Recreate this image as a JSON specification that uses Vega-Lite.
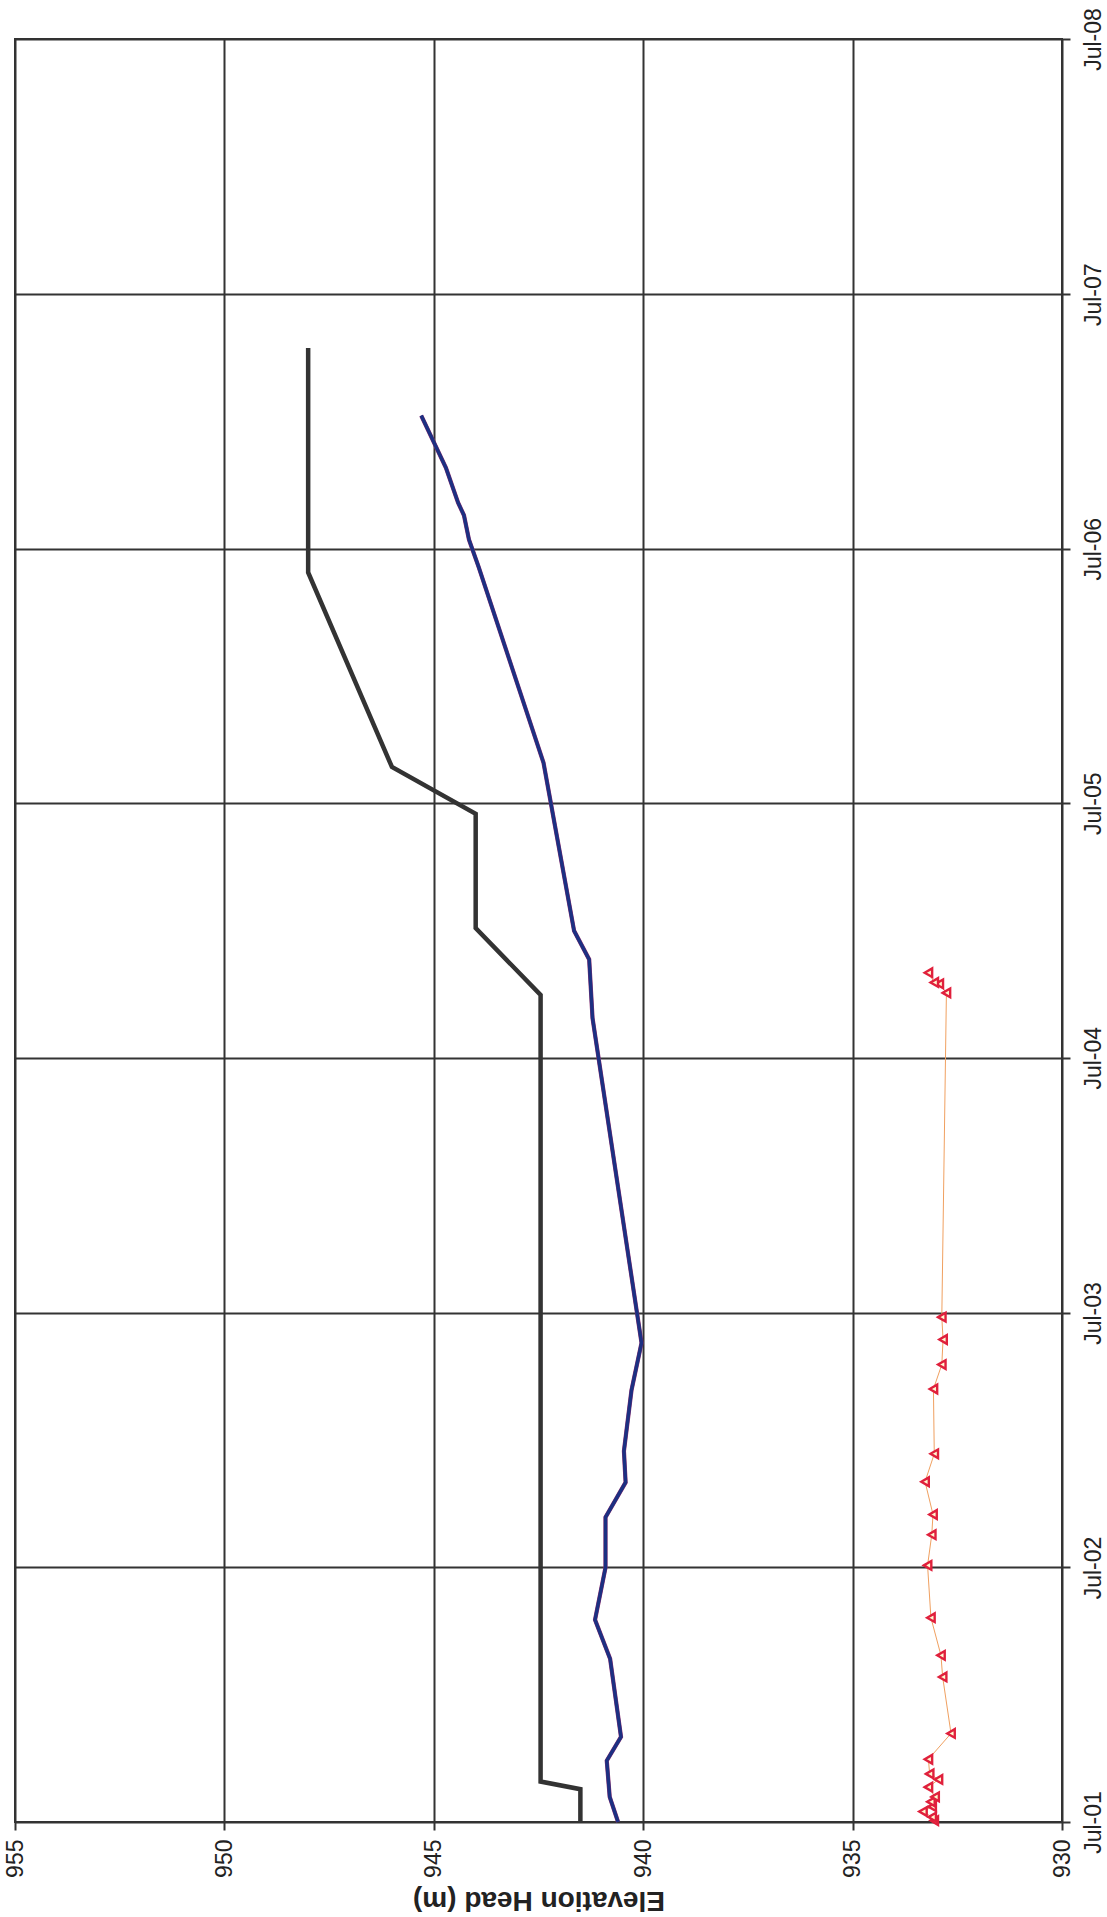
{
  "$schema": "https://vega.github.io/schema/vega-lite/v6.json",
  "width": 1047,
  "height": 1783,
  "autosize": {"type": "none"},
  "padding": {"left": 15, "top": 39, "right": 45, "bottom": 95},
  "background": "white",
  "config": {
    "view": {"stroke": "#333333", "strokeWidth": 2},
    "font": "Liberation Sans"
  },
  "datasets": {
    "pts": [
      {"series": "black", "date": "2001-07-01", "elev": 941.5},
      {"series": "black", "date": "2001-08-17", "elev": 941.5},
      {"series": "black", "date": "2001-08-28", "elev": 942.45},
      {"series": "black", "date": "2004-09-29", "elev": 942.45},
      {"series": "black", "date": "2005-01-03", "elev": 944.0},
      {"series": "black", "date": "2005-06-16", "elev": 944.0},
      {"series": "black", "date": "2005-08-22", "elev": 946.0},
      {"series": "black", "date": "2006-05-28", "elev": 948.0},
      {"series": "black", "date": "2007-04-15", "elev": 948.0},
      {"series": "blue", "date": "2001-07-01", "elev": 940.6},
      {"series": "blue", "date": "2001-08-06", "elev": 940.8},
      {"series": "blue", "date": "2001-09-27", "elev": 940.87},
      {"series": "blue", "date": "2001-10-31", "elev": 940.53},
      {"series": "blue", "date": "2002-02-20", "elev": 940.79},
      {"series": "blue", "date": "2002-04-17", "elev": 941.15},
      {"series": "blue", "date": "2002-07-01", "elev": 940.9},
      {"series": "blue", "date": "2002-09-11", "elev": 940.9},
      {"series": "blue", "date": "2002-10-31", "elev": 940.42},
      {"series": "blue", "date": "2002-12-15", "elev": 940.46},
      {"series": "blue", "date": "2003-03-12", "elev": 940.28},
      {"series": "blue", "date": "2003-05-19", "elev": 940.04},
      {"series": "blue", "date": "2004-08-27", "elev": 941.21},
      {"series": "blue", "date": "2004-11-19", "elev": 941.29},
      {"series": "blue", "date": "2004-12-30", "elev": 941.65},
      {"series": "blue", "date": "2005-08-28", "elev": 942.38},
      {"series": "blue", "date": "2006-06-05", "elev": 943.93},
      {"series": "blue", "date": "2006-07-14", "elev": 944.16},
      {"series": "blue", "date": "2006-08-18", "elev": 944.28},
      {"series": "blue", "date": "2006-09-05", "elev": 944.42},
      {"series": "blue", "date": "2006-10-25", "elev": 944.71},
      {"series": "blue", "date": "2007-01-08", "elev": 945.3},
      {"series": "red", "date": "2001-07-03", "elev": 933.05},
      {"series": "red", "date": "2001-07-08", "elev": 933.1},
      {"series": "red", "date": "2001-07-16", "elev": 933.32},
      {"series": "red", "date": "2001-07-23", "elev": 933.1},
      {"series": "red", "date": "2001-07-30", "elev": 933.13},
      {"series": "red", "date": "2001-08-06", "elev": 933.03},
      {"series": "red", "date": "2001-08-20", "elev": 933.19},
      {"series": "red", "date": "2001-08-31", "elev": 932.95},
      {"series": "red", "date": "2001-09-08", "elev": 933.16},
      {"series": "red", "date": "2001-09-29", "elev": 933.19},
      {"series": "red", "date": "2001-11-05", "elev": 932.65},
      {"series": "red", "date": "2002-01-25", "elev": 932.85},
      {"series": "red", "date": "2002-02-25", "elev": 932.89},
      {"series": "red", "date": "2002-04-20", "elev": 933.13},
      {"series": "red", "date": "2002-07-04", "elev": 933.21},
      {"series": "red", "date": "2002-08-17", "elev": 933.11},
      {"series": "red", "date": "2002-09-15", "elev": 933.08},
      {"series": "red", "date": "2002-11-01", "elev": 933.27},
      {"series": "red", "date": "2002-12-11", "elev": 933.05},
      {"series": "red", "date": "2003-03-14", "elev": 933.07},
      {"series": "red", "date": "2003-04-18", "elev": 932.87},
      {"series": "red", "date": "2003-05-24", "elev": 932.84},
      {"series": "red", "date": "2003-06-25", "elev": 932.87},
      {"series": "red", "date": "2004-10-02", "elev": 932.76},
      {"series": "red", "date": "2004-10-15", "elev": 932.93},
      {"series": "red", "date": "2004-10-17", "elev": 933.05},
      {"series": "red", "date": "2004-10-31", "elev": 933.19}
    ]
  },
  "data": {"name": "pts"},
  "encoding": {
    "x": {
      "field": "elev",
      "type": "quantitative",
      "scale": {"domain": [930, 955], "reverse": true, "nice": false, "zero": false},
      "axis": {
        "orient": "bottom",
        "values": [930, 935, 940, 945, 950, 955],
        "labelAngle": -90,
        "labelFontSize": 23,
        "labelColor": "#222222",
        "labelPadding": 9,
        "tickSize": 8,
        "tickColor": "#333333",
        "tickWidth": 2,
        "domain": false,
        "grid": true,
        "gridColor": "#333333",
        "gridWidth": 2,
        "gridOpacity": 1,
        "title": "Elevation Head (m)",
        "titleAngle": 180,
        "titleBaseline": "bottom",
        "titleFontSize": 28,
        "titleFontWeight": "bold",
        "titleColor": "#222222",
        "titlePadding": 8
      }
    },
    "y": {
      "field": "date",
      "type": "temporal",
      "scale": {
        "type": "utc",
        "domain": [
          {"year": 2001, "month": 7, "date": 1, "utc": true},
          {"year": 2008, "month": 7, "date": 1, "utc": true}
        ],
        "nice": false
      },
      "axis": {
        "orient": "right",
        "values": [
          {"year": 2001, "month": 7, "date": 1, "utc": true},
          {"year": 2002, "month": 7, "date": 1, "utc": true},
          {"year": 2003, "month": 7, "date": 1, "utc": true},
          {"year": 2004, "month": 7, "date": 1, "utc": true},
          {"year": 2005, "month": 7, "date": 1, "utc": true},
          {"year": 2006, "month": 7, "date": 1, "utc": true},
          {"year": 2007, "month": 7, "date": 1, "utc": true},
          {"year": 2008, "month": 7, "date": 1, "utc": true}
        ],
        "labelExpr": "utcFormat(datum.value, '%b-%y')",
        "labelAngle": -90,
        "labelFontSize": 23,
        "labelColor": "#222222",
        "labelPadding": 12,
        "tickSize": 8,
        "tickColor": "#333333",
        "tickWidth": 2,
        "domain": false,
        "grid": true,
        "gridColor": "#333333",
        "gridWidth": 2,
        "gridOpacity": 1,
        "title": null
      }
    },
    "order": {"field": "date", "type": "temporal"}
  },
  "layer": [
    {
      "transform": [{"filter": "datum.series === 'black'"}],
      "mark": {"type": "line", "color": "#333333", "strokeWidth": 4.5, "strokeJoin": "miter"}
    },
    {
      "transform": [{"filter": "datum.series === 'blue'"}],
      "mark": {"type": "line", "color": "#8a3070", "strokeWidth": 4.2}
    },
    {
      "transform": [{"filter": "datum.series === 'blue'"}],
      "mark": {"type": "line", "color": "#1c3082", "strokeWidth": 3.4}
    },
    {
      "transform": [{"filter": "datum.series === 'red'"}],
      "mark": {"type": "line", "color": "#f0a060", "strokeWidth": 1}
    },
    {
      "transform": [{"filter": "datum.series === 'red'"}],
      "mark": {"type": "point", "shape": "triangle-left", "size": 75, "filled": true, "fill": "#fff8d0", "stroke": "#e0203c", "strokeWidth": 2.4, "opacity": 1}
    }
  ]
}
